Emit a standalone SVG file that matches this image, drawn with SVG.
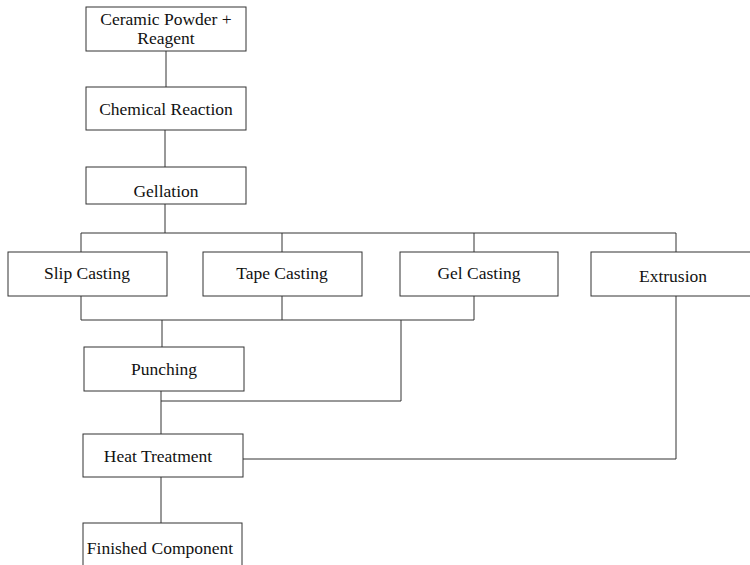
<svg xmlns="http://www.w3.org/2000/svg" width="750" height="565" viewBox="0 0 750 565">
<style>
.box{fill:#fff;stroke:#333;stroke-width:1}
.t{font-family:"Liberation Serif","Times New Roman",serif;font-size:17.5px;fill:#111;text-anchor:middle}
.c{fill:none;stroke:#333;stroke-width:1}
</style>
<rect width="750" height="565" fill="#fff"/>
<g id="connectors">
<path class="c" d="M166 51V87M165 130V167M165 204V233M81 233H676M81 233V252M282 233V252M474 233V252M676 233V252"/>
<path class="c" d="M81 296V320H474V296M282 296V320M162 320V347M401 320V401H161M161 391V434M243 459H676V296M161 477V523"/>
</g>
<g id="n1"><rect class="box" x="86" y="7" width="160" height="44"/><text class="t" x="166" y="25">Ceramic Powder +</text><text class="t" x="166" y="44">Reagent</text></g>
<g id="n2"><rect class="box" x="86" y="87" width="160" height="43"/><text class="t" x="166" y="115">Chemical Reaction</text></g>
<g id="n3"><rect class="box" x="86" y="167" width="160" height="37"/><text class="t" x="166" y="197">Gellation</text></g>
<g id="n4"><rect class="box" x="8" y="252" width="159" height="44"/><text class="t" x="87" y="279">Slip Casting</text></g>
<g id="n5"><rect class="box" x="203" y="252" width="159" height="44"/><text class="t" x="282" y="279">Tape Casting</text></g>
<g id="n6"><rect class="box" x="400" y="252" width="158" height="44"/><text class="t" x="479" y="279">Gel Casting</text></g>
<g id="n7"><rect class="box" x="591" y="252" width="165" height="44"/><text class="t" x="673" y="282">Extrusion</text></g>
<g id="n8"><rect class="box" x="84" y="347" width="160" height="44"/><text class="t" x="164" y="375">Punching</text></g>
<g id="n9"><rect class="box" x="83" y="434" width="160" height="43"/><text class="t" x="158" y="462">Heat Treatment</text></g>
<g id="n10"><rect class="box" x="83" y="523" width="159" height="50"/><text class="t" x="160" y="554">Finished Component</text></g>
</svg>
